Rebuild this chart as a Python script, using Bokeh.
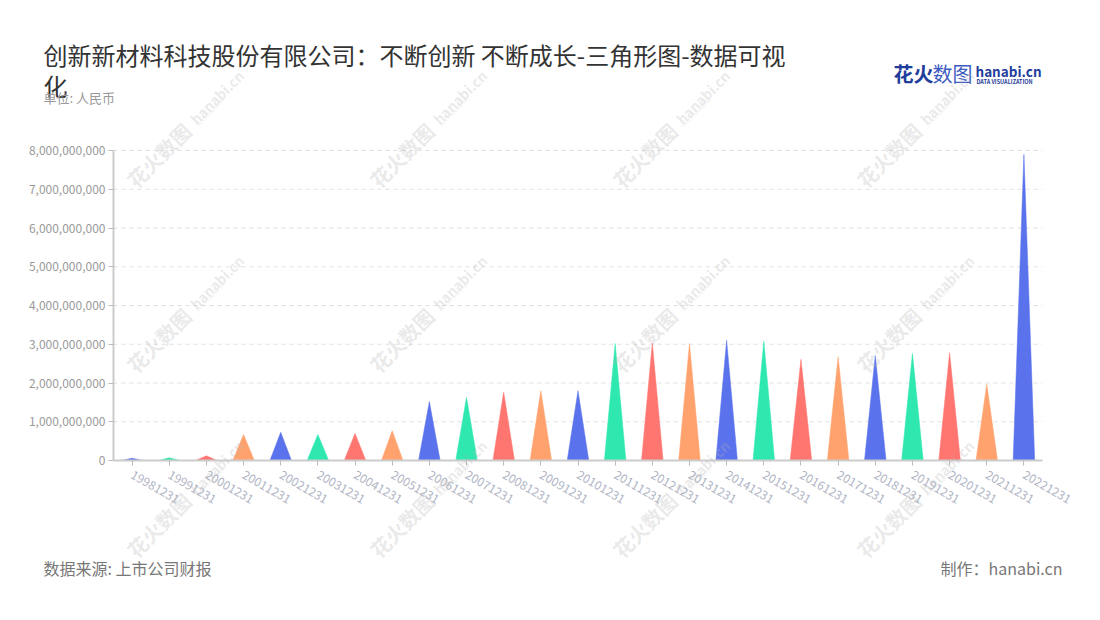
import math
from bokeh.plotting import figure
from bokeh.models import Range1d, FixedTicker, NumeralTickFormatter, Label, LinearAxis
from bokeh.embed import file_html
from bokeh.resources import INLINE

# ---------------- data ----------------
categories = ["19981231", "19991231", "20001231", "20011231", "20021231",
              "20031231", "20041231", "20051231", "20061231", "20071231",
              "20081231", "20091231", "20101231", "20111231", "20121231",
              "20131231", "20141231", "20151231", "20161231", "20171231",
              "20181231", "20191231", "20201231", "20211231", "20221231"]
values = [60e6, 70e6, 120e6, 670e6, 730e6,
          670e6, 700e6, 770e6, 1520e6, 1630e6,
          1760e6, 1800e6, 1800e6, 3020e6, 3030e6,
          3020e6, 3100e6, 3080e6, 2610e6, 2680e6,
          2710e6, 2760e6, 2780e6, 1970e6, 7900e6]
palette = ["#5A72EC", "#2EE8B0", "#FF7570", "#FFA26E"]
y_ticks = [0, 1e9, 2e9, 3e9, 4e9, 5e9, 6e9, 7e9, 8e9]

title_line1 = "创新新材料科技股份有限公司：不断创新 不断成长-三角形图-数据可视"
title_line2 = "化"
subtitle = "单位: 人民币"
source_text = "数据来源: 上市公司财报"
credit_text = "制作：hanabi.cn"

FONT = "Noto Sans CJK SC"

# ---------------- layout (canvas pixels) ----------------
W, H = 1092, 612
PLOT_L, PLOT_R, PLOT_T, PLOT_B = 113, 1042, 150, 460   # chart area on canvas
n = len(categories)
x0, x1 = -0.5, n - 0.5
y0, y1 = y_ticks[0], y_ticks[-1]
xpp = (x1 - x0) / (PLOT_R - PLOT_L)
ypp = (y1 - y0) / (PLOT_B - PLOT_T)

p = figure(width=W, height=H,
           x_range=Range1d(x0 - PLOT_L * xpp, x1 + (W - PLOT_R) * xpp),
           y_range=Range1d(y0 - (H - PLOT_B) * ypp, y1 + PLOT_T * ypp),
           x_axis_location=None, y_axis_location=None,
           output_backend="svg", toolbar_location=None, min_border=0)
p.title.visible = False
p.outline_line_color = None
p.background_fill_color = "white"
p.border_fill_color = "white"
p.grid.visible = False

# horizontal dashed grid lines at the y ticks
grid_ticks = [t for t in y_ticks if t > y0]
p.segment(x0=[x0] * len(grid_ticks), x1=[x1] * len(grid_ticks),
          y0=grid_ticks, y1=grid_ticks,
          line_color="#e0e0e0", line_dash="4 4", line_width=1)

# triangles
hw = 0.29
xs, ys, cols = [], [], []
for i, v in enumerate(values):
    xs.append([i - hw, i, i + hw])
    ys.append([0, v, 0])
    cols.append(palette[i % len(palette)])
p.patches(xs, ys, fill_color=cols, line_color=cols, line_width=0.5)

# axes placed at data locations
yaxis = LinearAxis(fixed_location=x0, bounds=(y0, y1),
                   ticker=FixedTicker(ticks=y_ticks),
                   formatter=NumeralTickFormatter(format="0,0"))
xaxis = LinearAxis(fixed_location=y0, bounds=(x0, x1),
                   ticker=FixedTicker(ticks=list(range(n))))
xaxis.major_label_overrides = {i: c for i, c in enumerate(categories)}
xaxis.major_label_orientation = -math.pi / 6
for ax in (xaxis, yaxis):
    ax.axis_line_color = "#cccccc"
    ax.axis_line_width = 2
    ax.major_tick_line_color = "#bbbbbb"
    ax.major_tick_in = 0
    ax.major_tick_out = 5
    ax.minor_tick_line_color = None
    ax.major_label_text_font = FONT
    ax.major_label_text_font_size = "12px"
yaxis.major_label_text_color = "#9a9a9a"
yaxis.major_label_standoff = 3
xaxis.major_label_text_color = "#b0b4c4"
xaxis.major_label_standoff = 8
p.add_layout(yaxis, "left")
p.add_layout(xaxis, "below")


# ---------------- texts (canvas coordinates) ----------------
def add_text(text, cx, cy, size, color, align="left", baseline="middle",
             style="normal", angle=0.0, alpha=1.0, level="annotation"):
    lab = Label(x=cx, y=H - cy, x_units="screen", y_units="screen", text=text,
                text_font=FONT, text_font_size=f"{size}px", text_color=color,
                text_align=align, text_baseline=baseline, text_font_style=style,
                angle=angle, text_alpha=alpha, level=level)
    p.add_layout(lab)


# watermarks
ang = math.pi / 4
c45 = math.cos(ang)
for wx in (130, 373, 616, 860):
    for wy in (183, 368, 553):
        add_text("花火数图", wx, wy, 20, "#b5b5b5", baseline="alphabetic",
                 style="bold", angle=ang, alpha=0.3, level="overlay")
        d = 88
        add_text("hanabi.cn", wx + d * c45, wy - d * c45, 14, "#b5b5b5",
                 baseline="alphabetic", style="bold", angle=ang, alpha=0.3,
                 level="overlay")
        add_text("DATA VISUALIZATION", wx + d * c45 + 6 * c45, wy - d * c45 + 6 * c45,
                 4, "#b5b5b5", baseline="alphabetic", angle=ang, alpha=0.3,
                 level="overlay")

# title
add_text(title_line1, 43, 54, 24, "#333333")
add_text(title_line2, 43, 85, 24, "#333333")
add_text(subtitle, 43, 97, 13, "#9a9a9a")

# logo
add_text("花火", 893, 73, 20, "#1f3e9c", style="bold")
add_text("数图", 932, 73, 20, "#3d5cbf")
add_text("hanabi.cn", 975, 70, 13.5, "#1f3e9c", style="bold")
add_text("DATA VISUALIZATION", 976, 81, 5.5, "#1f3e9c", style="bold")

# footer
add_text(source_text, 43, 567, 16, "#777777")
add_text(credit_text, 1062, 567, 16, "#777777", align="right")

open("out.html", "w").write(file_html(p, INLINE))
